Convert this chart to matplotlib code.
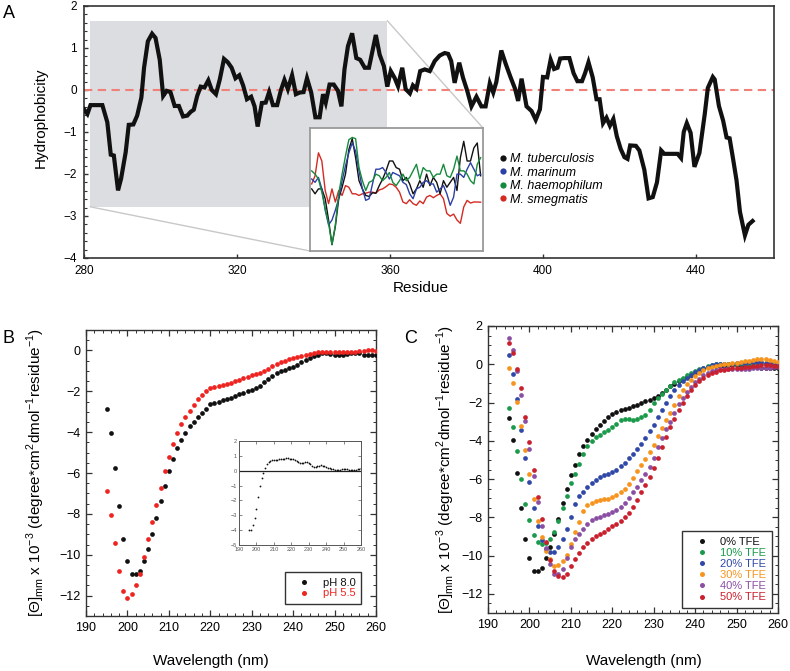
import numpy as np
import matplotlib
matplotlib.use("Agg")
import matplotlib.pyplot as plt
from matplotlib.patches import Rectangle, ConnectionPatch
from matplotlib.lines import Line2D
from matplotlib.ticker import MultipleLocator

plt.rcParams['font.family'] = ['Liberation Sans', 'DejaVu Sans']
plt.rcParams['mathtext.fontset'] = 'custom'
plt.rcParams['mathtext.rm'] = 'Liberation Sans'

# ---- panel A: hydrophobicity profile ----
res_a = [280.0, 280.9, 281.7, 284.8, 286.1, 287.0, 287.8, 288.9, 289.7, 290.9,
         291.7, 292.9, 293.9, 295.0, 295.7, 296.7, 297.8, 298.7, 299.8, 300.7,
         301.6, 302.6, 303.7, 304.8, 305.9, 307.0, 307.9, 308.7, 309.6, 310.5,
         311.5, 312.5, 313.4, 314.5, 315.5, 316.6, 317.6, 318.6, 319.6, 320.6,
         321.6, 322.6, 323.7, 324.6, 325.4, 326.5, 327.5, 328.4, 329.4, 330.5,
         331.5, 332.4, 333.3, 334.4, 335.4, 336.4, 337.4, 338.3, 339.4, 340.5,
         341.6, 342.5, 343.2, 344.2, 345.3, 346.4, 347.3, 348.1, 349.0, 350.1,
         351.2, 352.2, 353.4, 354.5, 355.6, 356.3, 357.3, 358.4, 359.3, 360.2,
         361.2, 362.1, 363.2, 364.1, 365.2, 366.0, 366.9, 367.9, 369.1, 370.4,
         371.7, 373.0, 374.3, 375.2, 376.0, 376.9, 378.1, 379.1, 380.2, 381.3,
         382.6, 383.9, 385.0, 386.1, 387.0, 387.8, 389.1, 390.3, 391.5, 392.7,
         393.5, 394.4, 395.7, 397.0, 398.1, 399.2, 400.0, 401.1, 402.0, 402.9,
         403.8, 404.5, 405.6, 406.9, 408.0, 409.0, 410.2, 411.0, 411.9, 413.0,
         414.0, 414.8, 415.7, 416.6, 417.5, 418.4, 419.3, 420.3, 421.3, 422.1,
         422.8, 424.3, 425.2, 426.5, 427.6, 428.7, 429.8, 430.9, 431.7, 433.9,
         435.2, 436.1, 436.8, 437.6, 438.6, 439.6, 440.9, 442.3, 443.1, 444.4,
         444.9, 446.0, 447.1, 448.0, 448.8, 449.7, 450.6, 451.5, 452.8, 453.7,
         454.8]
hyd_a = [-0.46, -0.57, -0.36, -0.36, -0.77, -1.54, -1.56, -2.39, -2.11, -1.48,
         -0.83, -0.82, -0.61, -0.18, 0.53, 1.16, 1.34, 1.24, 0.72, -0.14,
         -0.02, -0.05, -0.38, -0.38, -0.63, -0.61, -0.52, -0.47, -0.14, 0.08,
         0.06, 0.23, 0.00, -0.10, 0.25, 0.74, 0.66, 0.53, 0.28, 0.35,
         0.11, -0.22, -0.16, -0.39, -0.87, -0.31, -0.30, -0.05, -0.36, -0.36,
         0.00, 0.24, 0.02, 0.35, -0.10, -0.06, -0.05, 0.28, -0.06, -0.65,
         -0.65, -0.10, -0.30, 0.13, 0.13, -0.02, -0.39, 0.49, 1.04, 1.35,
         0.76, 0.72, 0.53, 0.53, 1.00, 1.31, 0.84, 0.57, 0.08, 0.45,
         0.29, 0.09, 0.53, 0.02, -0.08, 0.11, 0.03, 0.45, 0.49, 0.45,
         0.69, 0.82, 0.88, 0.86, 0.69, 0.17, 0.65, 0.29, -0.02, -0.39,
         -0.16, -0.39, -0.39, 0.16, -0.06, 0.19, 0.94, 0.61, 0.31, 0.03,
         -0.26, 0.27, -0.39, -0.50, -0.71, -0.46, 0.31, 0.30, 0.72, 0.50,
         0.53, 0.75, 0.76, 0.76, 0.40, 0.21, 0.21, 0.40, 0.66, 0.30,
         -0.22, -0.22, -0.79, -0.66, -0.85, -0.69, -1.10, -1.40, -1.60, -1.64,
         -1.32, -1.33, -1.44, -1.90, -2.58, -2.55, -2.20, -1.44, -1.52, -1.52,
         -1.52, -1.62, -1.00, -0.79, -1.02, -1.83, -1.50, -0.57, 0.05, 0.31,
         0.25, -0.38, -0.73, -1.13, -1.15, -1.64, -2.15, -2.90, -3.46, -3.21,
         -3.12]

# inset of panel A: four species over the shaded stretch
ins_res = np.arange(281, 356.1, 1.5)
ins_tb = [0.03, -0.21, 0.03, 0.03, -0.45, -1.49, -2.69, -1.81, -0.45, 0.11,
          0.75, 1.95, 2.48, 1.55, 0.43, 0.03, -0.29, -0.34, -0.16, -0.18,
          0.19, 0.51, 0.91, 1.39, 1.39, 1.07, 0.99, 0.43, 0.59, 0.27,
          -0.21, 0.03, 0.43, 0.11, 0.75, 0.19, 0.59, 0.35, -0.21, 0.43,
          0.11, 0.35, 0.59, -0.05, 1.55, 2.35, 1.39, 1.39, 2.03, 2.27, 0.67]
ins_mar = [0.51, 0.35, 0.59, 0.03, -1.01, -1.73, -1.49, -1.01, -0.45, 0.43,
           1.15, 1.79, 2.27, 1.87, 0.91, 0.03, -0.53, -0.45, 0.27, 0.99,
           0.99, 1.07, 0.83, 0.51, 0.83, 0.75, 0.67, 0.35, 0.24, -0.21,
           -0.45, 0.03, 0.11, 0.35, 0.43, 0.27, 0.27, -0.13, 0.03, 0.19,
           -0.21, -0.77, -0.37, 0.75, 0.75, 0.59, 0.99, 1.31, 0.99, 0.67, 0.75]
ins_hae = [0.91, 0.75, 0.51, -0.13, -0.93, -1.65, -2.69, -1.73, -0.21, 0.75,
           1.63, 2.43, 2.54, 2.48, 1.07, 0.43, -0.05, 0.35, 0.43, 0.75,
           0.67, 0.43, 0.59, 0.83, 0.35, 0.19, 0.43, 0.75, 0.43, 0.59,
           0.91, 1.23, 0.51, 1.07, 0.91, 0.91, 0.59, 0.75, 0.75, 1.23,
           0.67, 0.59, 0.99, 1.63, 0.91, 0.91, 0.75, 0.43, 0.27, 1.23, 1.55]
ins_sme = [0.27, 0.67, 1.79, 1.39, -0.05, -0.69, 0.03, -0.61, -0.05, -0.29,
           0.19, 0.11, -0.21, -0.21, -0.29, -0.21, -0.18, -0.13, -0.13, -0.18,
           -0.02, 0.03, 0.14, 0.27, 0.24, 0.11, -0.13, -0.61, -0.69, -0.50,
           -0.69, -0.77, -0.56, -0.69, -0.37, -0.29, -0.40, -0.29, -0.21, -0.45,
           -1.17, -1.30, -1.20, -1.49, -1.65, -0.85, -0.53, -0.66, -0.61, -0.61, -0.62]
species = ['M. tuberculosis', 'M. marinum', 'M. haemophilum', 'M. smegmatis']
species_col = ['#111111', '#2b3fa6', '#168a3c', '#d42a22']

# ---- panels B and C: CD spectra ----
wl = np.arange(195, 261)
ph80 = [-2.85, -4.03, -5.74, -7.63, -9.24, -10.30, -10.94, -10.94, -10.80, -10.30,
        -9.72, -9.00, -8.20, -7.37, -6.63, -5.90, -5.30, -4.78, -4.37, -4.02,
        -3.72, -3.48, -3.28, -3.05, -2.85, -2.63, -2.58, -2.52, -2.45, -2.38,
        -2.32, -2.22, -2.15, -2.08, -2.00, -1.93, -1.85, -1.72, -1.55, -1.40,
        -1.25, -1.10, -1.02, -0.95, -0.88, -0.82, -0.70, -0.58, -0.48, -0.38,
        -0.28, -0.20, -0.15, -0.15, -0.18, -0.20, -0.22, -0.20, -0.18, -0.15,
        -0.15, -0.15, -0.20, -0.20, -0.20, -0.20]
ph55 = [-6.86, -8.05, -9.43, -10.78, -11.79, -12.11, -11.93, -11.49, -10.94, -10.13,
        -9.24, -8.42, -7.57, -6.75, -5.90, -5.20, -4.59, -4.03, -3.59, -3.28,
        -2.95, -2.66, -2.37, -2.16, -1.98, -1.84, -1.78, -1.73, -1.68, -1.65,
        -1.60, -1.52, -1.45, -1.37, -1.30, -1.22, -1.15, -1.10, -1.00, -0.90,
        -0.78, -0.68, -0.58, -0.50, -0.43, -0.38, -0.32, -0.28, -0.22, -0.18,
        -0.12, -0.08, -0.08, -0.06, -0.06, -0.08, -0.08, -0.08, -0.06, -0.06,
        -0.06, -0.05, -0.02, 0.00, 0.00, -0.02]
wl_diff = np.arange(196, 261)
ph_diff = [-4.0, -4.0, -3.65, -3.15, -2.55, -1.8, -1.0, -0.5, -0.15, 0.2,
           0.48, 0.62, 0.68, 0.7, 0.72, 0.73, 0.75, 0.76, 0.78, 0.8,
           0.82, 0.86, 0.84, 0.8, 0.78, 0.76, 0.72, 0.65, 0.57, 0.52,
           0.53, 0.55, 0.57, 0.58, 0.55, 0.46, 0.35, 0.27, 0.27, 0.32,
           0.35, 0.36, 0.35, 0.3, 0.25, 0.2, 0.15, 0.11, 0.09, 0.08,
           0.07, 0.07, 0.08, 0.1, 0.13, 0.12, 0.09, 0.07, 0.05, 0.03,
           0.02, 0.08, 0.12, 0.14, 0.15]

tfe0 = [-2.81, -3.98, -5.67, -7.49, -9.11, -10.14, -10.79, -10.80, -10.63, -10.10,
        -9.56, -8.88, -8.08, -7.26, -6.50, -5.81, -5.24, -4.70, -4.29, -3.94,
        -3.65, -3.39, -3.16, -2.95, -2.76, -2.58, -2.48, -2.41, -2.34, -2.29,
        -2.20, -2.13, -2.04, -1.94, -1.85, -1.76, -1.64, -1.50, -1.33, -1.15,
        -1.01, -0.89, -0.77, -0.66, -0.56, -0.45, -0.35, -0.24, -0.16, -0.10,
        -0.07, -0.08, -0.08, -0.05, -0.05, -0.05, -0.05, -0.08, -0.10, -0.12,
        -0.15, -0.18, -0.20, -0.20, -0.20, -0.22]
tfe10 = [-2.29, -3.26, -4.52, -6.00, -7.29, -8.13, -8.94, -9.30, -9.39, -9.32,
         -9.13, -8.76, -8.18, -7.50, -6.86, -6.20, -5.71, -5.20, -4.71, -4.29,
         -4.03, -3.80, -3.68, -3.56, -3.42, -3.28, -3.10, -2.93, -2.86, -2.84,
         -2.90, -2.84, -2.76, -2.64, -2.40, -2.02, -1.76, -1.55, -1.33, -1.15,
         -0.95, -0.82, -0.70, -0.58, -0.46, -0.36, -0.26, -0.17, -0.10, -0.04,
         -0.01, 0.00, 0.02, 0.02, 0.02, 0.03, 0.03, 0.03, 0.03, 0.04,
         0.05, 0.05, 0.03, 0.00, -0.05, -0.10]
tfe20 = [0.50, -0.49, -1.82, -3.42, -4.92, -6.14, -7.52, -8.43, -9.20, -9.63,
         -9.80, -9.83, -9.56, -9.13, -8.59, -7.98, -7.29, -6.90, -6.68, -6.42,
         -6.21, -6.06, -5.90, -5.78, -5.74, -5.65, -5.50, -5.33, -5.15, -4.92,
         -4.70, -4.45, -4.15, -3.85, -3.50, -3.15, -2.78, -2.40, -2.00, -1.65,
         -1.35, -1.10, -0.88, -0.70, -0.55, -0.42, -0.30, -0.20, -0.12, -0.05,
         0.00, 0.00, 0.01, 0.02, 0.03, 0.05, 0.06, 0.08, 0.10, 0.10,
         0.10, 0.10, 0.08, 0.05, 0.00, -0.05]
tfe30 = [-0.21, -0.96, -1.95, -3.24, -4.50, -5.73, -7.02, -8.18, -9.02, -9.75,
         -10.20, -10.55, -10.50, -10.30, -9.95, -9.40, -8.75, -8.27, -7.66, -7.38,
         -7.26, -7.17, -7.09, -7.05, -7.02, -6.95, -6.85, -6.70, -6.50, -6.25,
         -5.95, -5.60, -5.25, -4.95, -4.60, -4.24, -3.77, -3.33, -2.90, -2.55,
         -2.11, -1.68, -1.33, -1.01, -0.80, -0.59, -0.45, -0.32, -0.22, -0.14,
         -0.08, -0.04, -0.01, 0.02, 0.05, 0.08, 0.12, 0.15, 0.18, 0.22,
         0.25, 0.27, 0.26, 0.22, 0.17, 0.10]
tfe40 = [1.35, 0.75, -0.35, -1.61, -2.98, -4.45, -5.83, -7.18, -8.44, -9.60,
         -10.45, -10.95, -10.95, -10.70, -10.15, -9.56, -9.15, -8.85, -8.60, -8.35,
         -8.15, -8.05, -7.98, -7.90, -7.80, -7.70, -7.60, -7.45, -7.25, -7.00,
         -6.70, -6.40, -6.05, -5.75, -5.35, -4.90, -4.35, -3.85, -3.40, -3.00,
         -2.55, -2.10, -1.75, -1.45, -1.20, -0.95, -0.75, -0.58, -0.45, -0.35,
         -0.30, -0.27, -0.25, -0.25, -0.25, -0.24, -0.24, -0.23, -0.23, -0.22,
         -0.22, -0.22, -0.20, -0.18, -0.15, -0.15]
tfe50 = [1.09, 0.61, -0.26, -1.26, -2.77, -4.08, -5.53, -6.92, -8.11, -9.28,
         -10.25, -10.80, -11.05, -11.10, -10.95, -10.55, -10.20, -9.85, -9.55, -9.35,
         -9.15, -9.00, -8.88, -8.75, -8.62, -8.45, -8.35, -8.20, -8.00, -7.75,
         -7.45, -7.10, -6.70, -6.30, -5.90, -5.43, -4.90, -4.30, -3.80, -3.30,
         -2.85, -2.40, -2.00, -1.65, -1.35, -1.10, -0.88, -0.70, -0.55, -0.45,
         -0.38, -0.32, -0.28, -0.25, -0.22, -0.20, -0.18, -0.15, -0.13, -0.10,
         -0.08, -0.05, -0.05, -0.05, -0.08, -0.10]
tfe_labels = ['0% TFE', '10% TFE', '20% TFE', '30% TFE', '40% TFE', '50% TFE']
tfe_cols = ['#111111', '#1a9a4a', '#3048a8', '#f7941d', '#8a4fa3', '#c9202e']

W, H = 790, 671
fig = plt.figure(figsize=(W / 100, H / 100), dpi=100)

def fbox(l, t, r, b):
    return [l / W, 1 - b / H, (r - l) / W, (b - t) / H]

spine_col = '#333333'

# ---------------- A ----------------
ax_a = fig.add_axes(fbox(84, 6, 774, 258))
ax_a.add_patch(Rectangle((281.6, -2.78), 77.7, 4.43, facecolor='#dcdde0',
                         edgecolor='none', zorder=0.5))
ax_a.axhline(0, color='#f08078', lw=1.5, dashes=(4, 2.6), zorder=2)
ax_a.plot(res_a, hyd_a, color='#111111', lw=3.0, solid_joinstyle='miter', zorder=3)
ax_a.set_xlim(280, 460.4)
ax_a.set_ylim(-4, 2)
ax_a.set_xticks([280, 320, 360, 400, 440])
ax_a.set_yticks([2, 1, 0, -1, -2, -3, -4])
ax_a.yaxis.set_minor_locator(MultipleLocator(0.2))
ax_a.tick_params(direction='in', labelsize=8.5, length=3, width=1, color=spine_col, pad=5)
ax_a.tick_params(which='minor', direction='in', length=2, width=0.8, color=spine_col)
for s in ax_a.spines.values():
    s.set_color(spine_col)
    s.set_linewidth(1.2)
ax_a.set_xlabel('Residue', fontsize=11, va='top')
ax_a.xaxis.set_label_coords(0.488, -0.09)
ax_a.set_ylabel('Hydrophobicity', fontsize=11)
ax_a.yaxis.set_label_coords(-0.052, 0.556)

ins_a = fig.add_axes(fbox(310, 128, 483, 251), zorder=5)
ins_a.plot(ins_res, ins_sme, color=species_col[3], lw=1.0)
ins_a.plot(ins_res, ins_tb, color=species_col[0], lw=1.0)
ins_a.plot(ins_res, ins_mar, color=species_col[1], lw=1.0)
ins_a.plot(ins_res, ins_hae, color=species_col[2], lw=1.0)
ins_a.set_xlim(280.25, 357.05)
ins_a.set_ylim(-3.0, 3.0)
ins_a.set_xticks([])
ins_a.set_yticks([])
for s in ins_a.spines.values():
    s.set_color('#9a9a9a')
    s.set_linewidth(1.3)

for xa, ya, xb, yb in [(359.3, 1.65, 1, 1), (281.6, -2.78, 0, 0)]:
    con = ConnectionPatch(xyA=(xa, ya), coordsA=ax_a.transData,
                          xyB=(xb, yb), coordsB=ins_a.transAxes,
                          color='#c8c8c8', lw=1.0, zorder=1)
    ax_a.add_artist(con)

handles_a = [Line2D([], [], ls='none', marker='o', ms=4.5, mec='none', color=c)
             for c in species_col]
ax_a.legend(handles_a, species, loc='upper left', bbox_to_anchor=(493 / W, 1 - 147 / H),
            bbox_transform=fig.transFigure, frameon=False, borderpad=0,
            handlelength=0.6, handletextpad=0.25, labelspacing=0.12,
            prop={'style': 'italic', 'size': 9})

ylab = (r'[Θ]$_{\mathregular{mm}}$ x 10$^{\mathregular{-3}}$ (degree*cm$^{\mathregular{2}}$'
        r'dmol$^{\mathregular{-1}}$residue$^{\mathregular{-1}}$)')

def style_cd(ax):
    ax.set_xlim(190, 260)
    ax.set_xticks(range(190, 261, 10))
    ax.xaxis.set_minor_locator(MultipleLocator(2))
    ax.yaxis.set_minor_locator(MultipleLocator(0.5))
    ax.tick_params(direction='in', top=True, right=True, labelsize=9,
                   length=4, width=0.9, color=spine_col, pad=4)
    ax.tick_params(which='minor', direction='in', top=True, right=True,
                   length=2, width=0.7, color=spine_col)
    for s in ax.spines.values():
        s.set_color(spine_col)
        s.set_linewidth(1.0)

# ---------------- B ----------------
ax_b = fig.add_axes(fbox(86, 330, 376, 616))
ax_b.plot(wl, ph80, 'o', ms=3.4, mew=0, color='#111111', zorder=3)
ax_b.plot(wl, ph55, 'o', ms=3.4, mew=0, color='#ee2420', zorder=3)
ax_b.set_ylim(-13, 1)
ax_b.set_yticks([0, -2, -4, -6, -8, -10, -12])
style_cd(ax_b)
ax_b.set_ylabel(ylab, fontsize=11)
ax_b.yaxis.set_label_coords(-0.134, 0.5)
ax_b.set_xlabel('Wavelength (nm)', fontsize=11, va='top')
ax_b.xaxis.set_label_coords(0.43, -0.133)
lb = ax_b.legend([Line2D([], [], ls='none', marker='o', ms=3.6, mew=0, color='#111111'),
                  Line2D([], [], ls='none', marker='o', ms=3.6, mew=0, color='#ee2420')],
                 ['pH 8.0', 'pH 5.5'], loc='lower right',
                 bbox_to_anchor=(361 / W, 1 - 604 / H), bbox_transform=fig.transFigure,
                 fancybox=False, edgecolor=spine_col, framealpha=1, fontsize=8,
                 borderpad=0.5, handlelength=2.5, handletextpad=0.4, labelspacing=0.05,
                 borderaxespad=0)
lb.get_frame().set_linewidth(1.0)
for t, c in zip(lb.get_texts(), ['#111111', '#ee2420']):
    t.set_color(c)

ins_b = fig.add_axes(fbox(239, 441, 361, 545), zorder=5)
ins_b.axhline(0, color='#222222', lw=0.9)
ins_b.plot(wl_diff, ph_diff, 'o', ms=1.3, mew=0, color='#111111')
ins_b.set_xlim(190, 260)
ins_b.set_ylim(-5, 2)
ins_b.set_xticks(range(190, 261, 10))
ins_b.set_yticks(range(-5, 3))
ins_b.tick_params(direction='in', top=True, right=True, labelsize=4, length=2,
                  width=0.5, color='#555555', labelcolor='#555555', pad=1.5)
for s in ins_b.spines.values():
    s.set_color('#555555')
    s.set_linewidth(0.7)

# ---------------- C ----------------
ax_c = fig.add_axes(fbox(488, 326, 778, 613))
for vals, c in zip([tfe0, tfe10, tfe20, tfe30, tfe40, tfe50], tfe_cols):
    ax_c.plot(wl, vals, 'o', ms=3.4, mew=0, color=c, zorder=3)
ax_c.set_ylim(-13, 2)
ax_c.set_yticks([2, 0, -2, -4, -6, -8, -10, -12])
style_cd(ax_c)
ax_c.set_ylabel(ylab, fontsize=11)
ax_c.yaxis.set_label_coords(-0.107, 0.5)
ax_c.set_xlabel('Wavelength (nm)', fontsize=11, va='top')
ax_c.xaxis.set_label_coords(0.538, -0.143)
lc = ax_c.legend([Line2D([], [], ls='none', marker='o', ms=3.6, mew=0, color=c) for c in tfe_cols],
                 tfe_labels, loc='lower right',
                 bbox_to_anchor=(772 / W, 1 - 608 / H), bbox_transform=fig.transFigure,
                 fancybox=False, edgecolor=spine_col, framealpha=1, fontsize=8,
                 borderpad=0.5, handlelength=2.6, handletextpad=0.4, labelspacing=0.1,
                 borderaxespad=0)
lc.get_frame().set_linewidth(1.0)
for t, c in zip(lc.get_texts(), tfe_cols):
    t.set_color(c)

fig.text(3 / W, 1 - 5 / H, 'A', fontsize=13, va='top', ha='left')
fig.text(3 / W, 1 - 330 / H, 'B', fontsize=13, va='top', ha='left')
fig.text(404 / W, 1 - 330 / H, 'C', fontsize=13, va='top', ha='left')

fig.savefig('out.png', dpi=100)
